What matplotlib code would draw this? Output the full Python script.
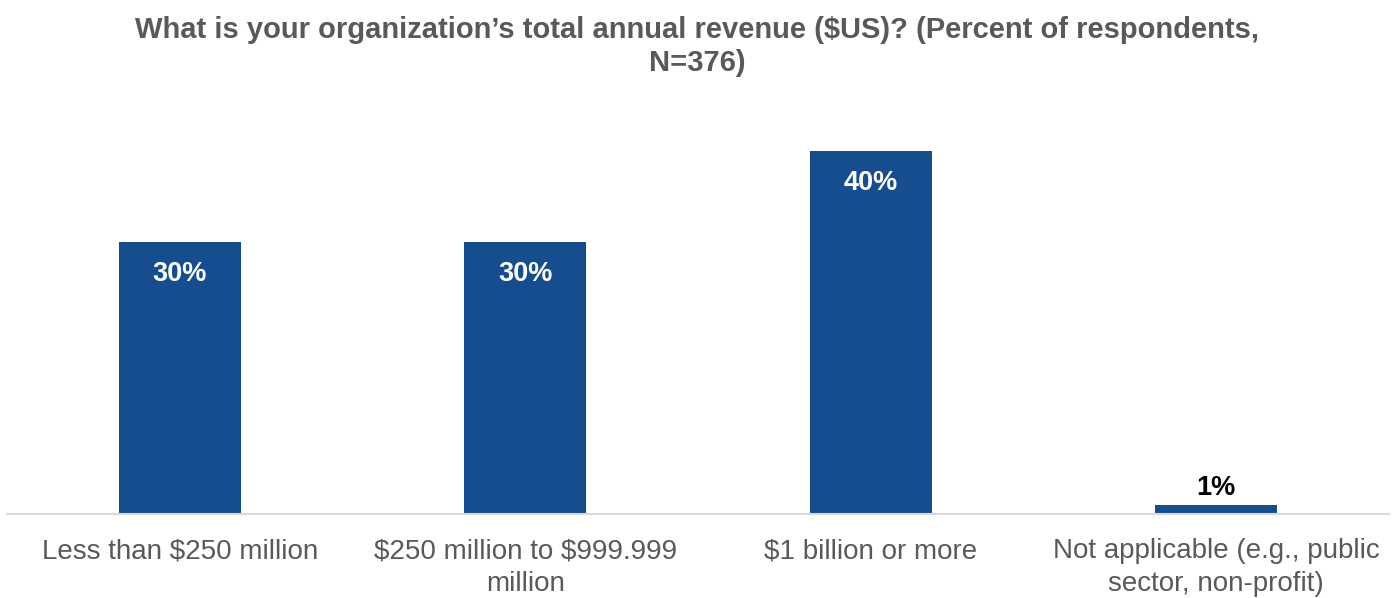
import matplotlib.pyplot as plt

plt.rcParams['font.family'] = ['Liberation Sans', 'DejaVu Sans']

categories = ["Less than \\$250 million",
              "\\$250 million to \\$999.999\nmillion",
              "\\$1 billion or more",
              "Not applicable (e.g., public\nsector, non-profit)"]
percents = [30, 30, 40, 1]

bar_color = "#154D8E"
text_gray = "#595959"

fig = plt.figure(figsize=(13.99, 5.98), dpi=100)
ax = fig.add_axes([7 / 1399, 84 / 598, 1382 / 1399, 408 / 598])

x = range(len(categories))
bars = ax.bar(x, percents, width=0.353, color=bar_color)

for bar, val in zip(bars, percents):
    cx = bar.get_x() + bar.get_width() / 2
    if val >= 5:
        ax.annotate(f"{val}%", (cx, val), xytext=(0, -13.5), textcoords="offset points",
                    ha="center", va="top", color="white", fontsize=19.5, fontweight="bold")
    else:
        ax.annotate(f"{val}%", (cx, val), xytext=(0, 3), textcoords="offset points",
                    ha="center", va="bottom", color="black", fontsize=19.5, fontweight="bold")

ax.set_xlim(-0.5, 3.5)
ax.set_ylim(0, 45)
ax.set_xticks(list(x))
ax.set_xticklabels(categories, fontsize=20, color=text_gray, linespacing=1.33)
ax.tick_params(axis="x", length=0, pad=17.5)
ax.set_yticks([])
for side in ["top", "right", "left"]:
    ax.spines[side].set_visible(False)
ax.spines["bottom"].set_color("#D9D9D9")
ax.spines["bottom"].set_linewidth(1.5)

fig.text(0.4985, 0.973, "What is your organization’s total annual revenue (\\$US)? (Percent of respondents,\nN=376)",
         ha="center", va="top", fontsize=21, fontweight="bold", color=text_gray, linespacing=1.22)

fig.savefig("out.png", dpi=100)
